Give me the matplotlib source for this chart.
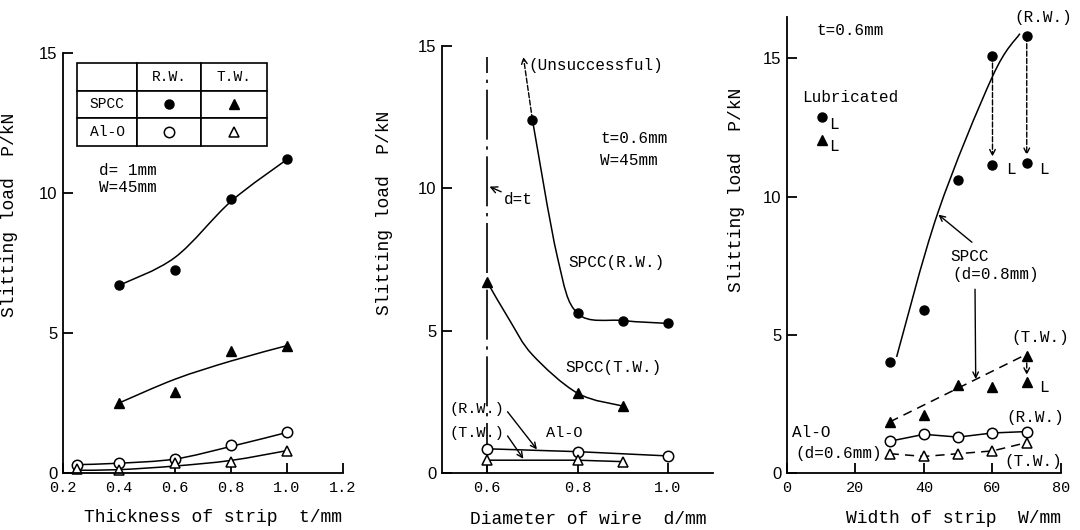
import numpy as np
import matplotlib.pyplot as plt
from matplotlib.path import Path
from matplotlib.patches import PathPatch

MONO = 'Liberation Mono'
SANS = 'Liberation Sans'

# ---- panel 1 : thickness of strip (d=1mm, W=45mm)
t_spcc = [0.4, 0.6, 0.8, 1.0]
spcc_rw_t = [6.7, 7.25, 9.8, 11.2]
spcc_tw_t = [2.5, 2.9, 4.35, 4.55]
t_al = [0.25, 0.4, 0.6, 0.8, 1.0]
al_rw_t = [0.3, 0.37, 0.5, 1.0, 1.45]
al_tw_t = [0.15, 0.1, 0.35, 0.4, 0.8]
# hand-drawn fitted curves
fit_spcc_rw_t = [6.7, 7.7, 9.7, 11.2]
fit_spcc_tw_t = [2.5, 3.35, 4.0, 4.55]
fit_al_rw_t = [0.3, 0.35, 0.5, 0.95, 1.45]
fit_al_tw_t = [0.1, 0.12, 0.25, 0.45, 0.8]

# ---- panel 2 : diameter of wire (t=0.6mm, W=45mm)
d_rw = [0.7, 0.8, 0.9, 1.0]
spcc_rw_d = [12.4, 5.6, 5.35, 5.25]
d_tw = [0.6, 0.8, 0.9]
spcc_tw_d = [6.7, 2.8, 2.35]
d_al_rw = [0.6, 0.8, 1.0]
al_rw_d = [0.85, 0.75, 0.6]
d_al_tw = [0.6, 0.8, 0.9]
al_tw_d = [0.45, 0.45, 0.4]
fit_rw_dx = [0.7, 0.755, 0.8, 0.9, 1.0]
fit_rw_dy = [12.4, 7.6, 5.6, 5.35, 5.25]
fit_tw_dx = [0.6, 0.65, 0.7, 0.8, 0.9]
fit_tw_dy = [6.7, 5.35, 4.15, 2.8, 2.35]
unsuccessful = (0.68, 14.6)
t_fixed = 0.6

# ---- panel 3 : width of strip (t=0.6mm)
w = [30, 40, 50, 60, 70]
spcc_rw_w = [4.0, 5.9, 10.6, 15.1, 15.8]
spcc_tw_w = [1.85, 2.1, 3.2, 3.1, 4.25]
al_rw_w = [1.15, 1.4, 1.3, 1.45, 1.5]
al_tw_w = [0.7, 0.6, 0.7, 0.8, 1.1]
w_lub_rw = [60, 70]
lub_rw_w = [11.15, 11.2]
w_lub_tw = [70]
lub_tw_w = [3.3]
fit_rw_wx = [32, 44, 60, 68]
fit_rw_wy = [4.2, 9.4, 14.35, 15.9]
fit_tw_wx = [30, 70]
fit_tw_wy = [1.85, 4.3]

LW = 1.1
FS = 11.5


def smooth(ax, xs, ys, **kw):
    # catmull-rom through the hand-drawn nodes, as bezier path
    p = np.column_stack([xs, ys]).astype(float)
    p = np.vstack([p[0], p, p[-1]])
    verts = [p[1]]
    codes = [Path.MOVETO]
    for i in range(1, len(p) - 2):
        c1 = p[i] + (p[i + 1] - p[i - 1]) / 6
        c2 = p[i + 1] - (p[i + 2] - p[i]) / 6
        verts += [c1, c2, p[i + 1]]
        codes += [Path.CURVE4] * 3
    ax.add_patch(PathPatch(Path(verts, codes), fill=False, color='black', lw=LW, **kw))


def style(ax, xlim, ylim, xticks, xlabels, yticks):
    ax.set_xlim(xlim)
    ax.set_ylim(ylim)
    ax.spines['top'].set_visible(False)
    ax.spines['right'].set_visible(False)
    ax.spines['left'].set_linewidth(1.3)
    ax.spines['bottom'].set_linewidth(1.3)
    ax.set_xticks(xticks)
    ax.set_xticklabels(xlabels, fontfamily=MONO, fontsize=11)
    ax.set_yticks(yticks)
    ax.set_yticklabels([str(v) for v in yticks], fontfamily=SANS, fontsize=12)
    ax.tick_params(direction='in', length=7, width=1.3, pad=4)
    ax.tick_params(axis='x', pad=6)


def txt(ax, x, y, s, **kw):
    kw.setdefault('fontsize', FS)
    kw.setdefault('va', 'center')
    kw.setdefault('ha', 'left')
    ax.text(x, y, s, fontfamily=MONO, **kw)


mk_fc = dict(marker='o', color='black', ms=6.5, ls='none')
mk_ft = dict(marker='^', color='black', ms=7, ls='none')
mk_oc = dict(marker='o', mfc='white', mec='black', mew=1.1, ms=7.5, ls='none')
mk_ot = dict(marker='^', mfc='white', mec='black', mew=1.1, ms=7.5, ls='none')
arrow = dict(arrowstyle='->', color='black', lw=1.0, shrinkA=0, shrinkB=0)

fig = plt.figure(figsize=(10.8, 5.3), dpi=100)

# ================= panel 1
ax1 = fig.add_axes([0.0583, 0.1075, 0.2593, 0.7925])
style(ax1, (0.2, 1.2), (0, 15), [0.2, 0.4, 0.6, 0.8, 1.0, 1.2],
      ['0.2', '0.4', '0.6', '0.8', '1.0', '1.2'], [0, 5, 10, 15])
smooth(ax1, t_spcc, fit_spcc_rw_t)
smooth(ax1, t_spcc, fit_spcc_tw_t)
smooth(ax1, t_al, fit_al_rw_t)
smooth(ax1, t_al, fit_al_tw_t)
ax1.plot(t_spcc, spcc_rw_t, **mk_fc)
ax1.plot(t_spcc, spcc_tw_t, **mk_ft)
ax1.plot(t_al, al_rw_t, **mk_oc, clip_on=False)
ax1.plot(t_al, al_tw_t, **mk_ot, clip_on=False)
txt(ax1, 0.33, 10.8, 'd= 1mm')
txt(ax1, 0.33, 10.2, 'W=45mm')

tbl = ax1.table(cellText=[['', 'R.W.', 'T.W.'], ['SPCC', '', ''], ['Al-O', '', '']],
                colWidths=[0.316, 0.337, 0.347], cellLoc='center',
                bbox=[0.05, 0.779, 0.679, 0.197])
tbl.auto_set_font_size(False)
tbl.set_fontsize(10.5)
for cell in tbl.get_celld().values():
    cell.set_linewidth(1.2)
    cell.get_text().set_fontfamily(MONO)
ax1.plot([0.379], [0.879], transform=ax1.transAxes, **mk_fc)
ax1.plot([0.611], [0.879], transform=ax1.transAxes, **mk_ft)
ax1.plot([0.379], [0.812], transform=ax1.transAxes, **mk_oc)
ax1.plot([0.611], [0.812], transform=ax1.transAxes, **mk_ot)
ax1.set_xlabel('Thickness of strip  t/mm', fontfamily=MONO, fontsize=13)
ax1.set_ylabel('Slitting load  P/kN', fontfamily=MONO, fontsize=13)
ax1.xaxis.set_label_coords(0.536, -0.085)
ax1.yaxis.set_label_coords(-0.16, 0.614)

# ================= panel 2
ax2 = fig.add_axes([0.4093, 0.1075, 0.251, 0.8066])
style(ax2, (0.5, 1.1), (0, 15), [0.6, 0.8, 1.0], ['0.6', '0.8', '1.0'], [0, 5, 10, 15])
ax2.plot([t_fixed, t_fixed], [0, 14.6], color='black', lw=1.2, dashes=(30, 4, 2, 4))
smooth(ax2, fit_rw_dx, fit_rw_dy)
smooth(ax2, fit_tw_dx, fit_tw_dy)
ax2.plot(d_al_rw, al_rw_d, color='black', lw=LW)
ax2.plot(d_al_tw, al_tw_d, color='black', lw=LW)
ax2.plot(d_rw, spcc_rw_d, **mk_fc)
ax2.plot(d_tw, spcc_tw_d, **mk_ft)
ax2.plot(d_al_rw, al_rw_d, **mk_oc, clip_on=False)
ax2.plot(d_al_tw, al_tw_d, **mk_ot, clip_on=False)
ax2.annotate('', xy=unsuccessful, xytext=(d_rw[0], spcc_rw_d[0]),
             arrowprops=dict(arrow, linestyle='--'))
txt(ax2, 0.692, 14.3, '(Unsuccessful)')
txt(ax2, 0.85, 11.75, 't=0.6mm')
txt(ax2, 0.85, 10.95, 'W=45mm')
ax2.annotate('d=t', xy=(0.605, 10.05), xytext=(0.637, 9.6), fontfamily=MONO,
             fontsize=FS, va='center', arrowprops=arrow)
txt(ax2, 0.78, 7.4, 'SPCC(R.W.)')
txt(ax2, 0.774, 3.7, 'SPCC(T.W.)')
txt(ax2, 0.516, 2.25, '(R.W.)', fontsize=11)
txt(ax2, 0.516, 1.4, '(T.W.)', fontsize=11)
txt(ax2, 0.73, 1.4, 'Al-O', fontsize=11)
ax2.annotate('', xy=(0.71, 0.83), xytext=(0.645, 2.15), arrowprops=arrow)
ax2.annotate('', xy=(0.68, 0.5), xytext=(0.645, 1.3), arrowprops=arrow)
ax2.set_xlabel('Diameter of wire  d/mm', fontfamily=MONO, fontsize=13)
ax2.set_ylabel('Slitting load  P/kN', fontfamily=MONO, fontsize=13)
ax2.xaxis.set_label_coords(0.539, -0.088)
ax2.yaxis.set_label_coords(-0.18, 0.608)

# ================= panel 3
ax3 = fig.add_axes([0.7287, 0.1075, 0.2537, 0.8604])
style(ax3, (0, 80), (0, 16.5), [0, 20, 40, 60, 80], ['0', '20', '40', '60', '80'], [0, 5, 10, 15])
smooth(ax3, fit_rw_wx, fit_rw_wy)
ax3.plot(fit_tw_wx, fit_tw_wy, color='black', lw=LW, dashes=(6, 4))
ax3.plot(w, al_rw_w, color='black', lw=LW)
ax3.plot(w, al_tw_w, color='black', lw=LW, dashes=(6, 4))
ax3.plot(w, spcc_rw_w, **mk_fc)
ax3.plot(w, spcc_tw_w, **mk_ft)
ax3.plot(w, al_rw_w, **mk_oc)
ax3.plot(w, al_tw_w, **mk_ot)
ax3.plot(w_lub_rw, lub_rw_w, **mk_fc)
ax3.plot(w_lub_tw, lub_tw_w, **mk_ft)
for x0, y0, y1 in [(60, 15.1, 11.45), (70, 15.8, 11.5), (70, 4.25, 3.55)]:
    ax3.annotate('', xy=(x0, y1), xytext=(x0, y0), arrowprops=dict(arrow, linestyle='--'))
txt(ax3, 64.0, 11.0, 'L')
txt(ax3, 73.6, 11.0, 'L')
txt(ax3, 73.6, 3.1, 'L')
txt(ax3, 8.7, 16.0, 't=0.6mm')
txt(ax3, 4.4, 13.6, 'Lubricated')
ax3.plot([10.2], [12.9], **mk_fc)
ax3.plot([10.2], [12.05], **mk_ft)
txt(ax3, 12.3, 12.6, 'L')
txt(ax3, 12.3, 11.8, 'L')
txt(ax3, 74.7, 16.5, '(R.W.)', ha='center')
txt(ax3, 73.9, 4.9, '(T.W.)', ha='center')
txt(ax3, 72.4, 2.0, '(R.W.)', ha='center')
txt(ax3, 71.9, 0.4, '(T.W.)', ha='center')
txt(ax3, 1.5, 1.45, 'Al-O')
txt(ax3, 2.4, 0.72, '(d=0.6mm)')
txt(ax3, 47.6, 7.83, 'SPCC')
txt(ax3, 48.2, 7.17, '(d=0.8mm)')
ax3.annotate('', xy=(44.2, 9.35), xytext=(54, 8.35), arrowprops=arrow)
ax3.annotate('', xy=(55.1, 3.4), xytext=(54.9, 6.65), arrowprops=arrow)
ax3.set_xlabel('Width of strip  W/mm', fontfamily=MONO, fontsize=13)
ax3.set_ylabel('Slitting load  P/kN', fontfamily=MONO, fontsize=13)
ax3.xaxis.set_label_coords(0.606, -0.082)
ax3.yaxis.set_label_coords(-0.153, 0.62)

fig.savefig('out.png', dpi=100)
